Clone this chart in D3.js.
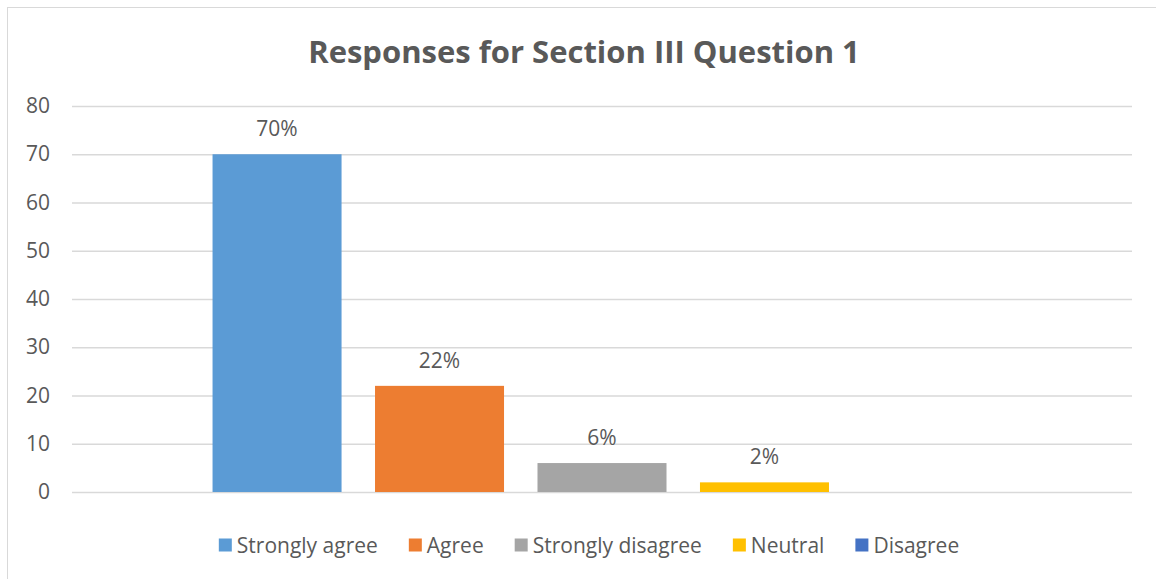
<!DOCTYPE html>
<html>
<head>
<meta charset="utf-8">
<script src="https://cdn.jsdelivr.net/npm/d3@7"></script>
<style>
  html, body { margin: 0; padding: 0; background: #fff; }
  svg { display: block; }
  text { font-family: "Open Sans", "Noto Sans", sans-serif; fill: #595959; }
</style>
</head>
<body>
<svg id="chart" width="1156" height="579"></svg>
<script>
// Survey responses, one bar per answer
const answers = ["Strongly agree", "Agree", "Strongly disagree", "Neutral", "Disagree"];
const counts = [70, 22, 6, 2, 0];
const percentLabels = ["70%", "22%", "6%", "2%", null];
const colors = ["#5B9BD5", "#ED7D31", "#A5A5A5", "#FFC000", "#4472C4"];
const yTicks = [0, 10, 20, 30, 40, 50, 60, 70, 80];
const title = "Responses for Section III Question 1";

const W = 1156, H = 579;
const plot = { left: 72, right: 1132, top: 106, bottom: 492 };

const svg = d3.select("#chart");

// chart area frame
svg.append("rect")
  .attr("x", 7.5).attr("y", 7.5)
  .attr("width", W + 20).attr("height", H + 20)
  .attr("fill", "#fff").attr("stroke", "#D9D9D9").attr("stroke-width", 1);

const y = d3.scaleLinear().domain([0, 80]).range([plot.bottom, plot.top]);
const x = d3.scaleBand().domain(answers)
  .range([plot.left, plot.right])
  .paddingInner(0.206)
  .paddingOuter(0.865);

// gridlines + y axis labels
const yAxis = d3.axisLeft(y).tickValues(yTicks)
  .tickSize(-(plot.right - plot.left)).tickPadding(22);
const gy = svg.append("g").attr("transform", `translate(${plot.left},0)`).call(yAxis);
gy.select(".domain").remove();
gy.selectAll(".tick line").attr("stroke", "#D9D9D9").attr("stroke-width", 1.3);
gy.selectAll(".tick text")
  .attr("font-size", 21).attr("fill", "#595959")
  .style("font-family", '"Open Sans", sans-serif');

// bars
svg.append("g").selectAll("rect")
  .data(answers)
  .join("rect")
  .attr("x", d => x(d))
  .attr("width", x.bandwidth())
  .attr("y", (d, i) => y(counts[i]))
  .attr("height", (d, i) => y(0) - y(counts[i]))
  .attr("fill", (d, i) => colors[i]);

// value labels
svg.append("g").selectAll("text")
  .data(answers.filter((d, i) => percentLabels[i] !== null))
  .join("text")
  .attr("x", d => x(d) + x.bandwidth() / 2)
  .attr("y", d => y(counts[answers.indexOf(d)]) - 18)
  .attr("text-anchor", "middle")
  .attr("font-size", 21)
  .attr("fill", "#404040")
  .text(d => percentLabels[answers.indexOf(d)]);

// title
svg.append("text")
  .attr("x", 584).attr("y", 63)
  .attr("text-anchor", "middle")
  .attr("font-size", 31).attr("font-weight", "bold")
  .text(title);

// legend
const legend = svg.append("g");
const items = legend.selectAll("g").data(answers).join("g");
items.append("rect")
  .attr("width", 13).attr("height", 13)
  .attr("y", -6.5)
  .attr("fill", (d, i) => colors[i]);
items.append("text")
  .attr("x", 18).attr("y", 7.5)
  .attr("font-size", 21)
  .text(d => d);
let offset = 0;
const gap = 31;
items.each(function () {
  const w = this.getBBox().width;
  d3.select(this).attr("transform", `translate(${offset},0)`);
  offset += w + gap;
});
const total = offset - gap;
legend.attr("transform", `translate(${589 - total / 2},545)`);
</script>
</body>
</html>
